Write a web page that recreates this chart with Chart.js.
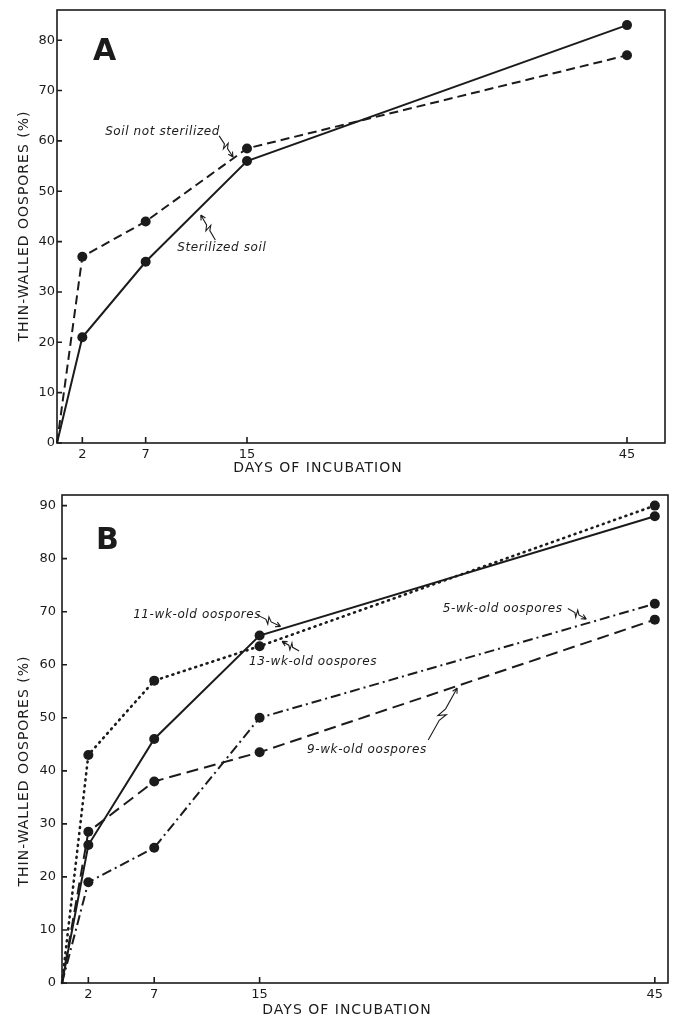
<!DOCTYPE html>
<html>
<head>
<meta charset="utf-8">
<script src="https://cdn.jsdelivr.net/npm/chart.js@4.4.0/dist/chart.umd.min.js"></script>
<style>
    html, body { margin: 0; padding: 0; background: #fff; }
    .panel { position: relative; width: 673px; }
    #panelA { height: 480px; }
    #panelB { height: 535px; }
</style>
</head>
<body>
<div class="panel" id="panelA"><canvas id="chartA"></canvas></div>
<div class="panel" id="panelB"><canvas id="chartB"></canvas></div>
<script>
// Days of incubation (x) and tick values
const days = [0, 2, 7, 15, 45];
const dayTicks = [2, 7, 15, 45];
const pctTicksA = [0, 10, 20, 30, 40, 50, 60, 70, 80];
const pctTicksB = [0, 10, 20, 30, 40, 50, 60, 70, 80, 90];

// Panel A: thin-walled oospores (%)
const sterilizedSoil = [0, 21, 36, 56, 83];
const soilNotSterilized = [0, 37, 44, 58.5, 77];

// Panel B: thin-walled oospores (%) by oospore age
const wk11 = [0, 26, 46, 65.5, 88];
const wk13 = [0, 43, 57, 63.5, 90];
const wk5 = [0, 19, 25.5, 50, 71.5];
const wk9 = [0, 28.5, 38, 43.5, 68.5];

const INK = '#1b1b1b';
const FONT = '"DejaVu Sans", sans-serif';

function toPoints(values) {
    return days.map((d, i) => ({ x: d, y: values[i] }));
}

function series(label, values, dash, width) {
    return {
        label: label,
        data: toPoints(values),
        borderColor: INK,
        borderWidth: width || 2,
        borderDash: dash,
        borderCapStyle: dash.length && dash[0] < 3 ? 'round' : 'butt',
        pointRadius: ctx => (ctx.raw && ctx.raw.x === 0 ? 0 : 5),
        pointBackgroundColor: INK,
        pointBorderWidth: 0,
        tension: 0,
        fill: false,
        clip: false
    };
}

// small lightning-style leader with an arrow tip
function leader(ctx, x1, y1, x2, y2) {
    const dx = x2 - x1, dy = y2 - y1;
    const len = Math.hypot(dx, dy);
    const ux = dx / len, uy = dy / len, nx = -uy, ny = ux;
    const p = (f, o) => [x1 + dx * f + nx * o, y1 + dy * f + ny * o];
    const pts = [[x1, y1], p(0.38, 0), p(0.52, 3.5), p(0.44, -3.5), p(0.6, 0), [x2, y2]];
    ctx.beginPath();
    pts.forEach((pt, i) => (i ? ctx.lineTo(pt[0], pt[1]) : ctx.moveTo(pt[0], pt[1])));
    ctx.moveTo(x2, y2);
    ctx.lineTo(x2 - ux * 5 + nx * 2.5, y2 - uy * 5 + ny * 2.5);
    ctx.moveTo(x2, y2);
    ctx.lineTo(x2 - ux * 5 - nx * 2.5, y2 - uy * 5 - ny * 2.5);
    ctx.stroke();
}

const figurePlugin = {
    id: 'figure',
    afterDraw(chart, args, opts) {
        const ctx = chart.ctx;
        const a = chart.chartArea;
        const xs = chart.scales.x, ys = chart.scales.y;
        ctx.save();

        // frame and inward ticks
        ctx.strokeStyle = INK;
        ctx.lineWidth = 1.6;
        ctx.strokeRect(a.left, a.top, a.right - a.left, a.bottom - a.top);
        ctx.beginPath();
        xs.ticks.forEach(t => {
            const x = xs.getPixelForValue(t.value);
            ctx.moveTo(x, a.bottom);
            ctx.lineTo(x, a.bottom - 6);
        });
        ys.ticks.forEach(t => {
            const y = ys.getPixelForValue(t.value);
            ctx.moveTo(a.left, y);
            ctx.lineTo(a.left + 5, y);
        });
        ctx.stroke();

        // panel letter
        ctx.fillStyle = INK;
        ctx.font = 'bold 30px ' + FONT;
        ctx.textBaseline = 'top';
        ctx.textAlign = 'left';
        ctx.fillText(opts.letter, opts.letterX, opts.letterY);

        // axis titles
        ctx.font = '14px ' + FONT;
        ctx.letterSpacing = '1px';
        ctx.textAlign = 'center';
        ctx.textBaseline = 'middle';
        ctx.fillText('DAYS OF INCUBATION', opts.xTitle[0], opts.xTitle[1]);
        ctx.save();
        ctx.translate(opts.yTitle[0], opts.yTitle[1]);
        ctx.rotate(-Math.PI / 2);
        ctx.fillText('THIN-WALLED OOSPORES (%)', 0, 0);
        ctx.restore();

        // curve labels with leaders
        ctx.font = 'italic 12px ' + FONT;
        ctx.letterSpacing = '0.6px';
        ctx.textAlign = 'left';
        ctx.lineWidth = 1.1;
        opts.notes.forEach(n => {
            ctx.fillText(n.text, xs.getPixelForValue(n.at[0]), ys.getPixelForValue(n.at[1]));
            leader(ctx,
                xs.getPixelForValue(n.from[0]), ys.getPixelForValue(n.from[1]),
                xs.getPixelForValue(n.to[0]), ys.getPixelForValue(n.to[1]));
        });
        ctx.letterSpacing = '0px';
        ctx.restore();
    }
};

function makeOptions(cfg) {
    return {
        responsive: true,
        maintainAspectRatio: false,
        animation: false,
        layout: { padding: cfg.padding },
        plugins: {
            legend: { display: false },
            tooltip: { enabled: false },
            figure: cfg.figure
        },
        scales: {
            x: {
                type: 'linear',
                min: 0,
                max: cfg.xMax,
                afterBuildTicks: s => { s.ticks = dayTicks.map(v => ({ value: v })); },
                afterFit: s => { s.height = cfg.xHeight; },
                grid: { display: false, drawTicks: false },
                border: { display: false },
                ticks: { color: INK, font: { size: 13, family: FONT }, padding: 4, maxRotation: 0, autoSkip: false }
            },
            y: {
                type: 'linear',
                min: 0,
                max: cfg.yMax,
                afterBuildTicks: s => { s.ticks = cfg.yTicks.map(v => ({ value: v })); },
                afterFit: s => { s.width = cfg.yWidth; },
                grid: { display: false, drawTicks: false },
                border: { display: false },
                ticks: { color: INK, font: { size: 13, family: FONT }, padding: cfg.yPad }
            }
        }
    };
}

new Chart(document.getElementById('chartA'), {
    type: 'line',
    data: {
        datasets: [
            series('Sterilized soil', sterilizedSoil, []),
            series('Soil not sterilized', soilNotSterilized, [9, 5])
        ]
    },
    options: makeOptions({
        padding: { top: 10, right: 8, left: 0, bottom: 0 },
        xMax: 48, yMax: 86, yTicks: pctTicksA, xHeight: 37, yWidth: 57, yPad: 2,
        figure: {
            letter: 'A', letterX: 93, letterY: 37,
            xTitle: [318, 468], yTitle: [24, 226],
            notes: [
                { text: 'Soil not sterilized', at: [3.8, 61.7], from: [12.8, 61], to: [13.9, 56.8] },
                { text: 'Sterilized soil', at: [9.5, 38.7], from: [12.5, 40.3], to: [11.35, 45.3] }
            ]
        }
    }),
    plugins: [figurePlugin]
});

new Chart(document.getElementById('chartB'), {
    type: 'line',
    data: {
        datasets: [
            series('11-wk-old oospores', wk11, []),
            series('13-wk-old oospores', wk13, [1, 5], 2.6),
            series('5-wk-old oospores', wk5, [10, 4, 2, 4]),
            series('9-wk-old oospores', wk9, [12, 6])
        ]
    },
    options: makeOptions({
        padding: { top: 15, right: 3, left: 0, bottom: 0 },
        xMax: 46, yMax: 92, yTicks: pctTicksB, xHeight: 32, yWidth: 62, yPad: 6,
        figure: {
            letter: 'B', letterX: 96, letterY: 46,
            xTitle: [347, 530], yTitle: [24, 291],
            notes: [
                { text: '11-wk-old oospores', at: [5.4, 69.4], from: [14.8, 69.4], to: [16.6, 67.2] },
                { text: '13-wk-old oospores', at: [14.2, 60.6], from: [18.0, 62.6], to: [16.7, 64.4] },
                { text: '5-wk-old oospores', at: [28.9, 70.6], from: [38.4, 70.6], to: [39.8, 68.6] },
                { text: '9-wk-old oospores', at: [18.6, 44.0], from: [27.8, 45.8], to: [30.0, 55.6] }
            ]
        }
    }),
    plugins: [figurePlugin]
});
</script>
</body>
</html>
